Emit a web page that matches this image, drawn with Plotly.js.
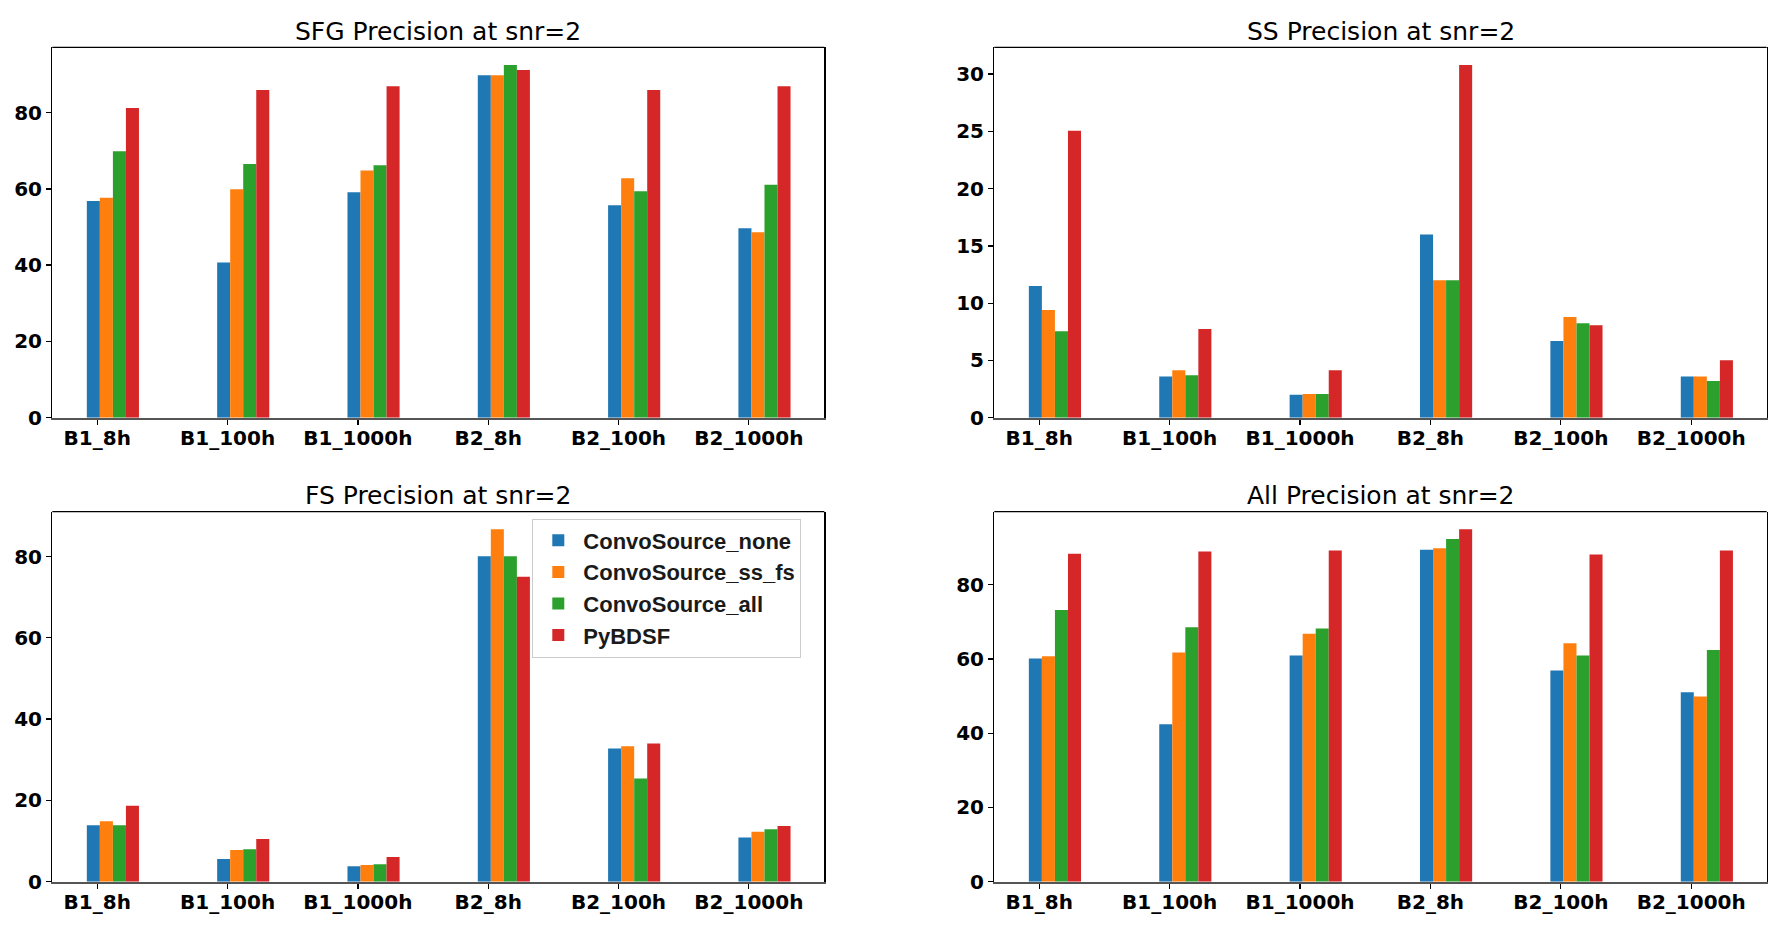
<!DOCTYPE html>
<html>
<head>
<meta charset="utf-8">
<script src="https://cdn.plot.ly/plotly-3.0.1.min.js"></script>
<style>html,body{margin:0;padding:0;background:#fff;}#chart{width:1779px;height:928px;}</style>
</head>
<body>
<div id="chart"></div>
<script>
// ---- data ----
const categories = ["B1_8h", "B1_100h", "B1_1000h", "B2_8h", "B2_100h", "B2_1000h"];
const seriesNames = ["ConvoSource_none", "ConvoSource_ss_fs", "ConvoSource_all", "PyBDSF"];
const panelTitles = ["SFG Precision at snr=2", "SS Precision at snr=2", "FS Precision at snr=2", "All Precision at snr=2"];

// SFG
const sfg_none = [56.8, 40.7, 59.1, 89.8, 55.7, 49.7];
const sfg_ssfs = [57.7, 59.9, 64.8, 89.8, 62.8, 48.6];
const sfg_all  = [69.9, 66.5, 66.2, 92.5, 59.4, 61.1];
const sfg_py   = [81.2, 85.9, 86.9, 91.2, 85.9, 86.9];
// SS
const ss_none = [11.5, 3.6, 2.0, 16.0, 6.7, 3.6];
const ss_ssfs = [9.4, 4.15, 2.06, 12.0, 8.8, 3.6];
const ss_all  = [7.55, 3.7, 2.06, 12.0, 8.25, 3.2];
const ss_py   = [25.05, 7.75, 4.15, 30.8, 8.07, 5.02];
// FS
const fs_none = [13.9, 5.6, 3.8, 80.1, 32.8, 10.9];
const fs_ssfs = [14.9, 7.8, 4.1, 86.7, 33.3, 12.3];
const fs_all  = [13.9, 8.0, 4.3, 80.1, 25.4, 12.9];
const fs_py   = [18.7, 10.5, 6.1, 75.0, 34.0, 13.7];
// All
const all_none = [60.1, 42.4, 60.9, 89.4, 56.9, 51.0];
const all_ssfs = [60.7, 61.7, 66.8, 89.8, 64.2, 49.9];
const all_all  = [73.2, 68.5, 68.2, 92.3, 60.9, 62.4];
const all_py   = [88.3, 88.9, 89.2, 94.9, 88.1, 89.2];

const yTickStep = [20, 5, 20, 20];

// ---- style ----
const colors = ["#1f77b4", "#ff7f0e", "#2ca02c", "#d62728"];
const barWidth = 0.1;
const barOffsets = [-0.08, 0.02, 0.12, 0.22];

const panels = [
  [sfg_none, sfg_ssfs, sfg_all, sfg_py],
  [ss_none, ss_ssfs, ss_all, ss_py],
  [fs_none, fs_ssfs, fs_all, fs_py],
  [all_none, all_ssfs, all_all, all_py]
];

const W = 1779, H = 928;
// axes pixel boxes [left, right, top, bottom]
const boxes = [
  [52.3, 824.3, 47.3, 417.7],
  [994.3, 1766.7, 47.3, 417.7],
  [52.3, 824.3, 511.7, 881.7],
  [994.3, 1766.7, 511.7, 881.7]
];

const traces = [];
const layout = {
  width: W, height: H,
  margin: {l: 0, r: 0, t: 0, b: 0},
  paper_bgcolor: "#fff",
  plot_bgcolor: "#fff",
  barmode: "overlay",
  showlegend: true,
  legend: {
    x: 532.3 / W, y: 1 - 518.5 / H, xanchor: "left", yanchor: "top",
    bgcolor: "rgba(255,255,255,0.8)", bordercolor: "#cccccc", borderwidth: 1,
    font: {family: "Liberation Sans, Arial, sans-serif", size: 22, color: "#1a1a1a", weight: "bold"},
    itemwidth: 40, tracegroupgap: 0
  },
  annotations: [],
  shapes: []
};

panels.forEach((series, p) => {
  const ax = p === 0 ? "" : String(p + 1);
  const b = boxes[p];
  let maxV = 0;
  series.forEach(s => s.forEach(v => { if (v > maxV) maxV = v; }));
  series.forEach((vals, i) => {
    traces.push({
      type: "bar",
      x: categories,
      y: vals,
      name: seriesNames[i],
      width: barWidth,
      offset: barOffsets[i],
      marker: {color: colors[i], line: {width: 0}},
      xaxis: "x" + ax, yaxis: "y" + ax,
      showlegend: p === 2,
      hoverinfo: "x+y+name"
    });
  });
  layout["xaxis" + ax] = {
    domain: [b[0] / W, b[1] / W],
    anchor: "y" + ax,
    type: "category",
    range: [-0.345, 5.579],
    showgrid: false, zeroline: false,
    showline: true, linecolor: "#555", linewidth: 2, mirror: false,
    ticks: "outside", ticklen: 5, tickwidth: 1.3, tickcolor: "#000",
    ticklabelstandoff: -4,
    tickfont: {family: "DejaVu Sans", size: 20, color: "#000", weight: "bold"},
    fixedrange: true
  };
  layout["yaxis" + ax] = {
    domain: [1 - b[3] / H, 1 - b[2] / H],
    anchor: "x" + ax,
    range: [0, maxV * 1.05],
    dtick: yTickStep[p], tick0: 0,
    showgrid: false, zeroline: false,
    showline: true, linecolor: "#000", linewidth: 1.3, mirror: true,
    ticks: "outside", ticklen: 5, tickwidth: 1.3, tickcolor: "#000",
    tickfont: {family: "DejaVu Sans", size: 20, color: "#000", weight: "bold"},
    fixedrange: true
  };
  // top frame edge
  layout.shapes.push({
    type: "line", xref: "x" + ax + " domain", yref: "y" + ax + " domain",
    x0: 0, x1: 1, y0: 1, y1: 1, line: {color: "#000", width: 1.3}
  });
  layout.annotations.push({
    text: panelTitles[p],
    xref: "paper", yref: "paper",
    x: (b[0] + b[1]) / 2 / W, y: 1 - (b[2] - 16) / H,
    xanchor: "center", yanchor: "middle", showarrow: false,
    font: {family: "DejaVu Sans", size: 25, color: "#000"}
  });
});

Plotly.newPlot("chart", traces, layout, {displayModeBar: false, staticPlot: true});
</script>
</body>
</html>
